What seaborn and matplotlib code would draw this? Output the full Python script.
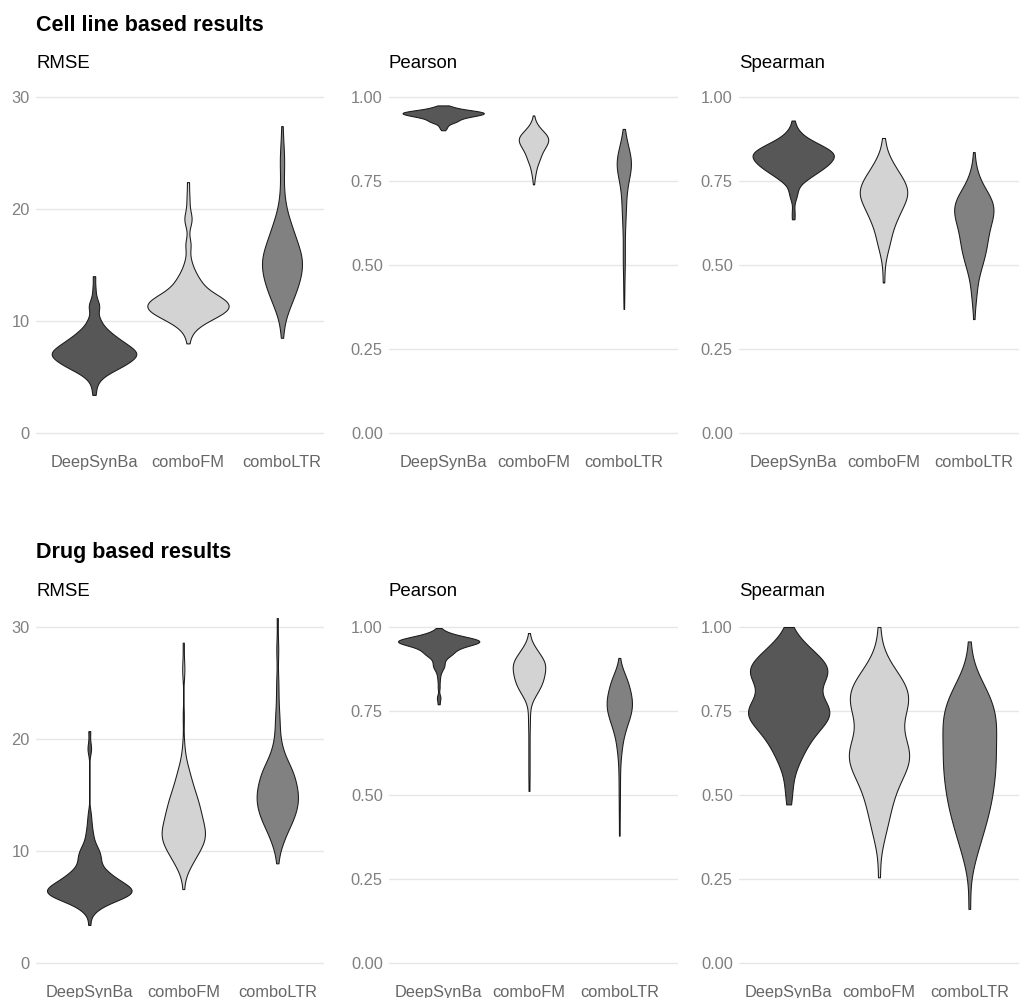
import numpy as np
import pandas as pd
import matplotlib
matplotlib.use("Agg")
import matplotlib.pyplot as plt
import seaborn as sns

# ---------------------------------------------------------------------------
# Per-model scores (one value per cell line / drug, rounded)
# ---------------------------------------------------------------------------
models = ["DeepSynBa", "comboFM", "comboLTR"]
metrics = ["RMSE", "Pearson", "Spearman"]
section_titles = ["Cell line based results", "Drug based results"]
fill_colors = ["#575757", "#d3d3d3", "#818181"]

rmse_ticks = [0, 10, 20, 30]
corr_ticks = [0.0, 0.25, 0.5, 0.75, 1.0]

# --- cell line based ---
cell_rmse_deepsynba = [
    3.4, 4.0, 4.5, 4.75, 5.0, 5.0, 5.25, 5.25,
    5.5, 5.5, 5.5, 5.5, 5.75, 5.75, 5.75, 5.75, 5.75,
    6.0, 6.0, 6.0, 6.0, 6.0, 6.0,
    6.25, 6.25, 6.25, 6.25, 6.25, 6.25, 6.25,
    6.5, 6.5, 6.5, 6.5, 6.5, 6.5, 6.5, 6.5,
    6.75, 6.75, 6.75, 6.75, 6.75, 6.75, 6.75, 6.75,
    7.0, 7.0, 7.0, 7.0, 7.0, 7.0, 7.0, 7.0, 7.0, 7.0,
    7.25, 7.25, 7.25, 7.25, 7.25, 7.25, 7.25, 7.25, 7.25,
    7.5, 7.5, 7.5, 7.5, 7.5, 7.5, 7.5, 7.5,
    7.75, 7.75, 7.75, 7.75, 7.75, 7.75, 7.75,
    8.0, 8.0, 8.0, 8.0, 8.0, 8.0, 8.0,
    8.25, 8.25, 8.25, 8.25, 8.25,
    8.5, 8.5, 8.5, 8.5, 8.5,
    8.75, 8.75, 8.75, 8.75,
    9.0, 9.0, 9.0, 9.25, 9.25, 9.25, 9.5, 9.5, 9.75, 10.0, 10.0,
    10.25, 10.5, 11.0, 11.25, 11.25, 11.5, 11.75, 12.25, 13.0, 14.0]
cell_rmse_combofm = [
    8.0, 8.75, 9.0, 9.25, 9.5, 9.5, 9.75, 9.75, 9.75,
    10.0, 10.0, 10.0, 10.0, 10.25, 10.25, 10.25, 10.25, 10.25,
    10.5, 10.5, 10.5, 10.5, 10.5, 10.5, 10.5,
    10.75, 10.75, 10.75, 10.75, 10.75, 10.75, 10.75, 10.75,
    11.0, 11.0, 11.0, 11.0, 11.0, 11.0, 11.0, 11.0,
    11.25, 11.25, 11.25, 11.25, 11.25, 11.25, 11.25, 11.25, 11.25, 11.25,
    11.5, 11.5, 11.5, 11.5, 11.5, 11.5, 11.5, 11.5, 11.5,
    11.75, 11.75, 11.75, 11.75, 11.75, 11.75, 11.75, 11.75,
    12.0, 12.0, 12.0, 12.0, 12.0, 12.0, 12.0, 12.0,
    12.25, 12.25, 12.25, 12.25, 12.25, 12.25,
    12.5, 12.5, 12.5, 12.5, 12.5, 12.75, 12.75, 12.75, 12.75,
    13.0, 13.0, 13.0, 13.25, 13.25, 13.25, 13.5, 13.5, 13.5,
    13.75, 13.75, 14.0, 14.0, 14.25, 14.25, 14.5, 14.75, 15.0, 15.25, 15.75,
    16.6, 16.8, 17.2, 18.5, 18.9, 19.1, 19.3, 19.7, 20.5, 21.3, 22.4]
cell_rmse_comboltr = [
    8.5, 9.5, 10.0, 10.5, 11.0, 11.0, 11.0, 11.5, 11.5, 11.5, 11.5,
    12.0, 12.0, 12.0, 12.0, 12.5, 12.5, 12.5, 12.5, 12.5, 12.5,
    13.0, 13.0, 13.0, 13.0, 13.0, 13.0, 13.5, 13.5, 13.5, 13.5, 13.5, 13.5, 13.5,
    14.0, 14.0, 14.0, 14.0, 14.0, 14.0, 14.0, 14.0,
    14.5, 14.5, 14.5, 14.5, 14.5, 14.5, 14.5, 14.5,
    15.0, 15.0, 15.0, 15.0, 15.0, 15.0, 15.0, 15.0,
    15.5, 15.5, 15.5, 15.5, 15.5, 15.5, 15.5, 15.5, 15.5,
    16.0, 16.0, 16.0, 16.0, 16.0, 16.0, 16.0, 16.0,
    16.5, 16.5, 16.5, 16.5, 16.5, 16.5, 16.5,
    17.0, 17.0, 17.0, 17.0, 17.0, 17.0, 17.5, 17.5, 17.5, 17.5, 17.5,
    18.0, 18.0, 18.0, 18.0, 18.0, 18.5, 18.5, 18.5, 18.5,
    19.0, 19.0, 19.0, 19.5, 19.5, 20.0, 20.0, 20.5, 21.0,
    21.5, 22.2, 23.0, 23.7, 24.2, 24.6, 25.2, 26.0, 27.4]

cell_pearson_deepsynba = [
    0.901, 0.906, 0.908, 0.912, 0.914, 0.917, 0.919, 0.921, 0.923, 0.923, 0.925,
    0.926, 0.926, 0.927, 0.927, 0.929, 0.929, 0.929, 0.9315, 0.9315, 0.9315,
    0.934, 0.934, 0.934, 0.934, 0.9367, 0.9367, 0.9367, 0.9367,
    0.9393, 0.9393, 0.9393, 0.9393, 0.9393,
    0.9419, 0.9419, 0.9419, 0.9419, 0.9419, 0.9419, 0.9419,
    0.9445, 0.9445, 0.9445, 0.9445, 0.9445, 0.9445, 0.9445,
    0.9471, 0.9471, 0.9471, 0.9471, 0.9471, 0.9471, 0.9471, 0.9471, 0.9471,
    0.9497, 0.9497, 0.9497, 0.9497, 0.9497, 0.9497, 0.9497, 0.9497, 0.9497,
    0.9523, 0.9523, 0.9523, 0.9523, 0.9523, 0.9523, 0.9523, 0.9523, 0.9523, 0.9523,
    0.9523,
    0.9549, 0.9549, 0.9549, 0.9549, 0.9549, 0.9549, 0.9549, 0.9549, 0.9549,
    0.9575, 0.9575, 0.9575, 0.9575, 0.9575, 0.9575, 0.9575, 0.9575, 0.9575,
    0.9601, 0.9601, 0.9601, 0.9601, 0.9601, 0.9601,
    0.9627, 0.9627, 0.9627, 0.9627, 0.9627, 0.9653, 0.9653, 0.9653,
    0.9679, 0.9679, 0.9679, 0.9705, 0.9705, 0.973, 0.974, 0.975]
cell_pearson_combofm = [
    0.74, 0.755, 0.765, 0.77, 0.775, 0.78, 0.785, 0.79, 0.79, 0.795, 0.8, 0.8,
    0.805, 0.805, 0.81, 0.81, 0.81, 0.815, 0.815, 0.815, 0.82, 0.82, 0.82,
    0.825, 0.825, 0.825, 0.83, 0.83, 0.83, 0.83, 0.835, 0.835, 0.835,
    0.84, 0.84, 0.84, 0.84, 0.84, 0.845, 0.845, 0.845, 0.845,
    0.85, 0.85, 0.85, 0.85, 0.85, 0.85, 0.855, 0.855, 0.855, 0.855, 0.855,
    0.86, 0.86, 0.86, 0.86, 0.86, 0.86, 0.86,
    0.865, 0.865, 0.865, 0.865, 0.865, 0.865,
    0.87, 0.87, 0.87, 0.87, 0.87, 0.87, 0.87,
    0.875, 0.875, 0.875, 0.875, 0.875, 0.875, 0.875, 0.875,
    0.88, 0.88, 0.88, 0.88, 0.88, 0.88, 0.88,
    0.885, 0.885, 0.885, 0.885, 0.885, 0.885,
    0.89, 0.89, 0.89, 0.89, 0.89, 0.89, 0.895, 0.895, 0.895, 0.895, 0.895,
    0.9, 0.9, 0.9, 0.9, 0.905, 0.905, 0.905, 0.91, 0.91, 0.91,
    0.915, 0.92, 0.92, 0.925, 0.93, 0.945]
cell_pearson_comboltr = [
    0.369, 0.4, 0.42, 0.44, 0.46, 0.48, 0.49, 0.5, 0.51, 0.52, 0.53, 0.54, 0.55, 0.56,
    0.58, 0.59, 0.6, 0.61, 0.62, 0.63, 0.63, 0.64, 0.65, 0.65, 0.66, 0.66, 0.67, 0.67,
    0.68, 0.68, 0.69, 0.69, 0.7, 0.7, 0.71, 0.71, 0.72, 0.72, 0.73, 0.73, 0.73,
    0.74, 0.74, 0.74, 0.75, 0.75, 0.75, 0.75, 0.76, 0.76, 0.76, 0.76,
    0.77, 0.77, 0.77, 0.77, 0.77, 0.78, 0.78, 0.78, 0.78, 0.78, 0.78, 0.78,
    0.79, 0.79, 0.79, 0.79, 0.79, 0.79, 0.79, 0.79,
    0.8, 0.8, 0.8, 0.8, 0.8, 0.8, 0.8, 0.8, 0.8,
    0.81, 0.81, 0.81, 0.81, 0.81, 0.81, 0.81, 0.81,
    0.82, 0.82, 0.82, 0.82, 0.82, 0.82, 0.82, 0.83, 0.83, 0.83, 0.83, 0.83, 0.83,
    0.84, 0.84, 0.84, 0.84, 0.84, 0.85, 0.85, 0.85, 0.85, 0.86, 0.86, 0.86,
    0.87, 0.87, 0.88, 0.88, 0.89, 0.905]

cell_spearman_deepsynba = [
    0.636, 0.66, 0.695, 0.705, 0.715, 0.72, 0.73, 0.74, 0.745, 0.75, 0.75,
    0.755, 0.755, 0.76, 0.76, 0.765, 0.765, 0.77, 0.77, 0.77,
    0.775, 0.775, 0.775, 0.775, 0.78, 0.78, 0.78, 0.785, 0.785, 0.785, 0.785,
    0.79, 0.79, 0.79, 0.79, 0.795, 0.795, 0.795, 0.795, 0.795,
    0.8, 0.8, 0.8, 0.8, 0.8, 0.805, 0.805, 0.805, 0.805, 0.805,
    0.81, 0.81, 0.81, 0.81, 0.81, 0.815, 0.815, 0.815, 0.815, 0.815,
    0.82, 0.82, 0.82, 0.82, 0.82, 0.82, 0.825, 0.825, 0.825, 0.825, 0.825, 0.825,
    0.83, 0.83, 0.83, 0.83, 0.83, 0.83, 0.835, 0.835, 0.835, 0.835, 0.835, 0.835,
    0.84, 0.84, 0.84, 0.84, 0.84, 0.845, 0.845, 0.845, 0.845, 0.845,
    0.85, 0.85, 0.85, 0.85, 0.855, 0.855, 0.855, 0.855, 0.86, 0.86, 0.86, 0.86,
    0.865, 0.865, 0.865, 0.87, 0.87, 0.875, 0.875, 0.88, 0.88,
    0.885, 0.89, 0.895, 0.9, 0.91, 0.93]
cell_spearman_combofm = [
    0.448, 0.49, 0.52, 0.53, 0.54, 0.55, 0.56, 0.56, 0.57, 0.57, 0.58, 0.58,
    0.59, 0.59, 0.6, 0.6, 0.61, 0.61, 0.61, 0.62, 0.62, 0.62, 0.63, 0.63, 0.63,
    0.64, 0.64, 0.64, 0.64, 0.65, 0.65, 0.65, 0.65,
    0.66, 0.66, 0.66, 0.66, 0.66, 0.67, 0.67, 0.67, 0.67, 0.67,
    0.68, 0.68, 0.68, 0.68, 0.68, 0.69, 0.69, 0.69, 0.69, 0.69, 0.69,
    0.7, 0.7, 0.7, 0.7, 0.7, 0.7, 0.7, 0.71, 0.71, 0.71, 0.71, 0.71, 0.71, 0.71,
    0.72, 0.72, 0.72, 0.72, 0.72, 0.72, 0.72, 0.73, 0.73, 0.73, 0.73, 0.73, 0.73,
    0.74, 0.74, 0.74, 0.74, 0.74, 0.74, 0.74, 0.75, 0.75, 0.75, 0.75, 0.75,
    0.76, 0.76, 0.76, 0.76, 0.76, 0.76, 0.77, 0.77, 0.77, 0.77,
    0.78, 0.78, 0.78, 0.78, 0.79, 0.79, 0.79, 0.8, 0.8, 0.8,
    0.81, 0.81, 0.82, 0.82, 0.83, 0.84, 0.86, 0.878]
cell_spearman_comboltr = [
    0.339, 0.39, 0.4, 0.41, 0.43, 0.44, 0.45, 0.46, 0.47, 0.48, 0.48, 0.49, 0.49,
    0.5, 0.5, 0.51, 0.51, 0.51, 0.52, 0.52, 0.53, 0.53, 0.53, 0.53,
    0.54, 0.54, 0.54, 0.55, 0.55, 0.55, 0.56, 0.56, 0.56, 0.56, 0.57, 0.57, 0.57, 0.57,
    0.58, 0.58, 0.58, 0.59, 0.59, 0.59, 0.59, 0.6, 0.6, 0.6, 0.6,
    0.61, 0.61, 0.61, 0.61, 0.62, 0.62, 0.62, 0.62, 0.63, 0.63, 0.63, 0.63, 0.63,
    0.64, 0.64, 0.64, 0.64, 0.64, 0.65, 0.65, 0.65, 0.65, 0.65, 0.65,
    0.66, 0.66, 0.66, 0.66, 0.66, 0.66, 0.67, 0.67, 0.67, 0.67, 0.67,
    0.68, 0.68, 0.68, 0.68, 0.68, 0.68, 0.69, 0.69, 0.69, 0.69, 0.69, 0.69,
    0.7, 0.7, 0.7, 0.7, 0.7, 0.71, 0.71, 0.71, 0.71, 0.72, 0.72, 0.72, 0.72,
    0.73, 0.73, 0.74, 0.74, 0.75, 0.75, 0.76, 0.77, 0.78, 0.79, 0.836]

# --- drug based ---
drug_rmse_deepsynba = [
    3.4, 4.5, 4.75, 4.75, 5.0, 5.0, 5.25, 5.25, 5.25, 5.5, 5.5, 5.5, 5.5, 5.5,
    5.75, 5.75, 5.75, 5.75, 5.75, 5.75, 5.75,
    6.0, 6.0, 6.0, 6.0, 6.0, 6.0, 6.0, 6.0, 6.0,
    6.25, 6.25, 6.25, 6.25, 6.25, 6.25, 6.25, 6.25, 6.25, 6.25, 6.25,
    6.5, 6.5, 6.5, 6.5, 6.5, 6.5, 6.5, 6.5, 6.5, 6.5,
    6.75, 6.75, 6.75, 6.75, 6.75, 6.75, 6.75, 6.75, 6.75,
    7.0, 7.0, 7.0, 7.0, 7.0, 7.0, 7.0, 7.0,
    7.25, 7.25, 7.25, 7.25, 7.25, 7.25, 7.25,
    7.5, 7.5, 7.5, 7.5, 7.5, 7.75, 7.75, 7.75, 7.75, 7.75,
    8.0, 8.0, 8.0, 8.0, 8.0, 8.25, 8.25, 8.25, 8.5, 8.5, 8.5,
    8.75, 8.75, 9.0, 9.0, 9.25, 9.25, 9.25, 9.5, 9.5, 9.75, 9.75, 9.75,
    10.0, 10.0, 10.25, 10.25, 10.5, 10.75, 10.75, 11.25, 11.5, 11.75, 12.25, 12.75,
    13.4, 19.0, 19.3, 20.7]
drug_rmse_combofm = [
    6.6, 8.0, 8.5, 8.5, 8.5, 9.0, 9.0, 9.0, 9.0, 9.5, 9.5, 9.5, 9.5, 9.5,
    10.0, 10.0, 10.0, 10.0, 10.0, 10.0, 10.0,
    10.5, 10.5, 10.5, 10.5, 10.5, 10.5, 10.5, 10.5,
    11.0, 11.0, 11.0, 11.0, 11.0, 11.0, 11.0, 11.0, 11.0, 11.0,
    11.5, 11.5, 11.5, 11.5, 11.5, 11.5, 11.5, 11.5, 11.5, 11.5,
    12.0, 12.0, 12.0, 12.0, 12.0, 12.0, 12.0, 12.0, 12.0,
    12.5, 12.5, 12.5, 12.5, 12.5, 12.5, 12.5, 12.5,
    13.0, 13.0, 13.0, 13.0, 13.0, 13.0, 13.0, 13.0,
    13.5, 13.5, 13.5, 13.5, 13.5, 13.5, 13.5,
    14.0, 14.0, 14.0, 14.0, 14.0, 14.0, 14.0,
    14.5, 14.5, 14.5, 14.5, 14.5, 14.5, 15.0, 15.0, 15.0, 15.0, 15.0, 15.0,
    15.5, 15.5, 15.5, 15.5, 16.0, 16.0, 16.0, 16.0, 16.5, 16.5, 16.5,
    17.0, 17.0, 17.0, 17.5, 17.5, 18.0, 18.5, 19.5, 22.0, 26.0, 26.4, 28.6]
drug_rmse_comboltr = [
    8.9, 10.0, 10.5, 10.5, 11.0, 11.0, 11.0, 11.5, 11.5, 11.5,
    12.0, 12.0, 12.0, 12.0, 12.0, 12.5, 12.5, 12.5, 12.5, 12.5, 12.5,
    13.0, 13.0, 13.0, 13.0, 13.0, 13.0, 13.0,
    13.5, 13.5, 13.5, 13.5, 13.5, 13.5, 13.5, 13.5,
    14.0, 14.0, 14.0, 14.0, 14.0, 14.0, 14.0, 14.0,
    14.5, 14.5, 14.5, 14.5, 14.5, 14.5, 14.5, 14.5, 14.5,
    15.0, 15.0, 15.0, 15.0, 15.0, 15.0, 15.0, 15.0, 15.0,
    15.5, 15.5, 15.5, 15.5, 15.5, 15.5, 15.5, 15.5,
    16.0, 16.0, 16.0, 16.0, 16.0, 16.0, 16.0, 16.0,
    16.5, 16.5, 16.5, 16.5, 16.5, 16.5, 16.5,
    17.0, 17.0, 17.0, 17.0, 17.0, 17.0, 17.0,
    17.5, 17.5, 17.5, 17.5, 17.5, 17.5, 18.0, 18.0, 18.0, 18.0,
    18.5, 18.5, 18.5, 19.0, 19.0, 19.5, 19.5, 20.0, 20.5, 21.0, 21.5, 22.0, 22.5,
    23.5, 24.5, 25.5, 27.5, 28.5, 30.8]

drug_pearson_deepsynba = [
    0.77, 0.788, 0.792, 0.82, 0.84, 0.855, 0.865, 0.872, 0.877, 0.88, 0.884, 0.884,
    0.888, 0.893, 0.897, 0.897, 0.902, 0.905, 0.91, 0.91,
    0.915, 0.915, 0.915, 0.915, 0.92, 0.92, 0.92, 0.92, 0.925, 0.925, 0.925, 0.925,
    0.93, 0.93, 0.93, 0.93, 0.935, 0.935, 0.935, 0.935, 0.935,
    0.94, 0.94, 0.94, 0.94, 0.94, 0.94, 0.945, 0.945, 0.945, 0.945, 0.945, 0.945, 0.945,
    0.95, 0.95, 0.95, 0.95, 0.95, 0.95, 0.95, 0.95, 0.95, 0.95,
    0.955, 0.955, 0.955, 0.955, 0.955, 0.955, 0.955, 0.955, 0.955, 0.955, 0.955,
    0.955, 0.955, 0.955,
    0.96, 0.96, 0.96, 0.96, 0.96, 0.96, 0.96, 0.96, 0.96, 0.96, 0.96, 0.96, 0.96,
    0.965, 0.965, 0.965, 0.965, 0.965, 0.965, 0.965, 0.965, 0.965, 0.965,
    0.97, 0.97, 0.97, 0.97, 0.97, 0.97, 0.97, 0.975, 0.975, 0.975, 0.975, 0.975,
    0.98, 0.98, 0.98, 0.985, 0.985, 0.99, 0.997]
drug_pearson_combofm = [
    0.512, 0.55, 0.58, 0.61, 0.64, 0.67, 0.7, 0.72, 0.74, 0.76, 0.77, 0.78,
    0.79, 0.79, 0.79, 0.8, 0.8, 0.8, 0.8, 0.81, 0.81, 0.81, 0.81, 0.81,
    0.82, 0.82, 0.82, 0.82, 0.82, 0.82, 0.83, 0.83, 0.83, 0.83, 0.83, 0.83, 0.83,
    0.84, 0.84, 0.84, 0.84, 0.84, 0.84, 0.84, 0.84,
    0.85, 0.85, 0.85, 0.85, 0.85, 0.85, 0.85,
    0.86, 0.86, 0.86, 0.86, 0.86, 0.86, 0.86, 0.86, 0.86,
    0.87, 0.87, 0.87, 0.87, 0.87, 0.87, 0.87, 0.87,
    0.88, 0.88, 0.88, 0.88, 0.88, 0.88, 0.88, 0.88, 0.88,
    0.89, 0.89, 0.89, 0.89, 0.89, 0.89, 0.89, 0.89, 0.89,
    0.9, 0.9, 0.9, 0.9, 0.9, 0.9, 0.9, 0.9, 0.9,
    0.91, 0.91, 0.91, 0.91, 0.91, 0.91, 0.91, 0.92, 0.92, 0.92, 0.92, 0.92,
    0.93, 0.93, 0.93, 0.93, 0.93, 0.94, 0.94, 0.94, 0.95, 0.95, 0.96, 0.982]
drug_pearson_comboltr = [
    0.379, 0.43, 0.47, 0.5, 0.53, 0.555, 0.58, 0.6, 0.615, 0.625, 0.635, 0.64,
    0.65, 0.65, 0.66, 0.67, 0.67, 0.68, 0.68, 0.68, 0.69, 0.69, 0.69, 0.7, 0.7, 0.7,
    0.71, 0.71, 0.71, 0.71, 0.71, 0.72, 0.72, 0.72, 0.72,
    0.73, 0.73, 0.73, 0.73, 0.73, 0.73, 0.74, 0.74, 0.74, 0.74, 0.74, 0.74,
    0.75, 0.75, 0.75, 0.75, 0.75, 0.75, 0.75, 0.76, 0.76, 0.76, 0.76, 0.76, 0.76, 0.76,
    0.77, 0.77, 0.77, 0.77, 0.77, 0.77, 0.77, 0.78, 0.78, 0.78, 0.78, 0.78, 0.78, 0.78,
    0.79, 0.79, 0.79, 0.79, 0.79, 0.79, 0.79, 0.8, 0.8, 0.8, 0.8, 0.8, 0.8,
    0.81, 0.81, 0.81, 0.81, 0.81, 0.81, 0.82, 0.82, 0.82, 0.82, 0.82,
    0.83, 0.83, 0.83, 0.83, 0.83, 0.84, 0.84, 0.84, 0.84, 0.84,
    0.85, 0.85, 0.85, 0.85, 0.86, 0.86, 0.86, 0.87, 0.87, 0.88, 0.908]

drug_spearman_deepsynba = [
    0.472, 0.5, 0.53, 0.55, 0.58, 0.59, 0.6, 0.61, 0.61, 0.62, 0.63, 0.64, 0.64,
    0.65, 0.65, 0.66, 0.66, 0.67, 0.67, 0.68, 0.68, 0.68, 0.69, 0.69, 0.7, 0.7, 0.7,
    0.71, 0.71, 0.71, 0.71, 0.72, 0.72, 0.72,
    0.73, 0.73, 0.73, 0.73, 0.73, 0.74, 0.74, 0.74, 0.74, 0.74,
    0.75, 0.75, 0.75, 0.75, 0.75, 0.75, 0.76, 0.76, 0.76, 0.76, 0.76,
    0.77, 0.77, 0.77, 0.77, 0.78, 0.78, 0.78, 0.79, 0.79, 0.79,
    0.8, 0.8, 0.81, 0.81, 0.82, 0.82, 0.83, 0.83, 0.83, 0.84, 0.84, 0.84,
    0.85, 0.85, 0.85, 0.85, 0.86, 0.86, 0.86, 0.86, 0.86,
    0.87, 0.87, 0.87, 0.87, 0.87, 0.87, 0.88, 0.88, 0.88, 0.88, 0.88,
    0.89, 0.89, 0.89, 0.89, 0.9, 0.9, 0.9, 0.91, 0.91, 0.91, 0.92, 0.92, 0.92,
    0.93, 0.93, 0.94, 0.94, 0.95, 0.95, 0.96, 0.965, 1.0]
drug_spearman_combofm = [
    0.255, 0.36, 0.38, 0.38, 0.4, 0.42, 0.42, 0.44, 0.44, 0.46, 0.46, 0.46,
    0.48, 0.48, 0.5, 0.5, 0.5, 0.52, 0.52, 0.52, 0.52, 0.54, 0.54, 0.54,
    0.56, 0.56, 0.56, 0.56, 0.56, 0.58, 0.58, 0.58, 0.58, 0.58, 0.58,
    0.6, 0.6, 0.6, 0.6, 0.6, 0.6, 0.6, 0.62, 0.62, 0.62, 0.62, 0.62, 0.62, 0.62, 0.62,
    0.64, 0.64, 0.64, 0.64, 0.64, 0.64, 0.64, 0.66, 0.66, 0.66, 0.66, 0.66,
    0.68, 0.68, 0.68, 0.68, 0.7, 0.7, 0.7, 0.72, 0.72, 0.72, 0.72,
    0.74, 0.74, 0.74, 0.74, 0.74, 0.76, 0.76, 0.76, 0.76, 0.76, 0.76,
    0.78, 0.78, 0.78, 0.78, 0.78, 0.78, 0.78, 0.8, 0.8, 0.8, 0.8, 0.8, 0.8, 0.8,
    0.82, 0.82, 0.82, 0.82, 0.82, 0.82, 0.82, 0.84, 0.84, 0.84, 0.84, 0.84,
    0.86, 0.86, 0.86, 0.86, 0.88, 0.88, 0.9, 0.9, 0.92, 1.0]
drug_spearman_comboltr = [
    0.161, 0.28, 0.3, 0.32, 0.34, 0.34, 0.36, 0.36, 0.38, 0.38, 0.38,
    0.4, 0.4, 0.4, 0.42, 0.42, 0.42, 0.44, 0.44, 0.44, 0.44, 0.46, 0.46, 0.46, 0.46,
    0.48, 0.48, 0.48, 0.48, 0.48, 0.5, 0.5, 0.5, 0.5, 0.52, 0.52, 0.52, 0.52, 0.52,
    0.54, 0.54, 0.54, 0.54, 0.54, 0.56, 0.56, 0.56, 0.56, 0.56,
    0.58, 0.58, 0.58, 0.58, 0.58, 0.6, 0.6, 0.6, 0.6, 0.6, 0.6,
    0.62, 0.62, 0.62, 0.62, 0.62, 0.64, 0.64, 0.64, 0.64, 0.64,
    0.66, 0.66, 0.66, 0.66, 0.66, 0.68, 0.68, 0.68, 0.68, 0.68,
    0.7, 0.7, 0.7, 0.7, 0.7, 0.7, 0.72, 0.72, 0.72, 0.72, 0.72,
    0.74, 0.74, 0.74, 0.74, 0.74, 0.74, 0.76, 0.76, 0.76, 0.76, 0.76,
    0.78, 0.78, 0.78, 0.78, 0.78, 0.8, 0.8, 0.8, 0.8, 0.82, 0.82, 0.82,
    0.84, 0.84, 0.84, 0.86, 0.88, 0.957]

scores = {
    ("cell", "RMSE"): [cell_rmse_deepsynba, cell_rmse_combofm, cell_rmse_comboltr],
    ("cell", "Pearson"): [cell_pearson_deepsynba, cell_pearson_combofm, cell_pearson_comboltr],
    ("cell", "Spearman"): [cell_spearman_deepsynba, cell_spearman_combofm, cell_spearman_comboltr],
    ("drug", "RMSE"): [drug_rmse_deepsynba, drug_rmse_combofm, drug_rmse_comboltr],
    ("drug", "Pearson"): [drug_pearson_deepsynba, drug_pearson_combofm, drug_pearson_comboltr],
    ("drug", "Spearman"): [drug_spearman_deepsynba, drug_spearman_combofm, drug_spearman_comboltr],
}


def nrd0(kde):
    """Silverman's rule of thumb (R's bw.nrd0), as a factor of the sample sd."""
    x = np.asarray(kde.dataset).ravel()
    sd = x.std(ddof=1)
    q75, q25 = np.percentile(x, [75, 25])
    lo = min(sd, (q75 - q25) / 1.34)
    return 0.9 * lo * len(x) ** -0.2 / sd


# ---------------------------------------------------------------------------
# Figure layout (pixel geometry)
# ---------------------------------------------------------------------------
W, H = 1019, 998
sns.set_theme(style="white")
plt.rcParams["font.family"] = ["Liberation Sans", "DejaVu Sans"]

fig = plt.figure(figsize=(W / 100, H / 100), dpi=100)
fig.patch.set_facecolor("white")

panel_x = [(36, 324), (389, 678), (739, 1028)]
row_top = [80.2, 610.2]
row_h = 369.6
row_shift = [0.0, 0.05]
xlims = [(-0.617, 2.447), (-0.6, 2.6), (-0.6, 2.6)]
title_base = [30.7, 557.7]
sub_base = [68.3, 596.5]

for r, group in enumerate(["cell", "drug"]):
    fig.text(36 / W, 1 - title_base[r] / H, section_titles[r], fontsize=15.5,
             fontweight="bold", color="black", ha="left", va="baseline")
    for c, metric in enumerate(metrics):
        x0, x1 = panel_x[c]
        ax = fig.add_axes([x0 / W, 1 - (row_top[r] + row_h) / H, (x1 - x0) / W, row_h / H])
        vals = scores[(group, metric)]
        df = pd.DataFrame({
            "model": np.concatenate([[m] * len(v) for m, v in zip(models, vals)]),
            "value": np.concatenate([np.asarray(v, dtype=float) for v in vals]),
        })
        sns.violinplot(data=df, x="model", y="value", hue="model", order=models,
                       hue_order=models, palette=fill_colors, legend=False, cut=0,
                       inner=None, density_norm="area", common_norm=True, width=0.9,
                       gridsize=300, linewidth=0.75, linecolor="#1a1a1a",
                       bw_method=nrd0, ax=ax)
        lo, hi = xlims[c]
        ax.set_xlim(lo + row_shift[r], hi + row_shift[r])
        if metric == "RMSE":
            ax.set_ylim(-1.5, 31.5)
            ax.set_yticks(rmse_ticks)
            ax.set_yticklabels([f"{t:d}" for t in rmse_ticks])
        else:
            ax.set_ylim(-0.05, 1.05)
            ax.set_yticks(corr_ticks)
            ax.set_yticklabels([f"{t:.2f}" for t in corr_ticks])
        ax.set_xlabel("")
        ax.set_ylabel("")
        for s in ax.spines.values():
            s.set_visible(False)
        ax.set_facecolor("none")
        ax.yaxis.grid(True, color="#e6e6e6", linewidth=1.0)
        ax.xaxis.grid(False)
        ax.set_axisbelow(True)
        ax.tick_params(axis="both", length=0)
        ax.tick_params(axis="y", labelsize=11.8, labelcolor="#808080", pad=4.5)
        ax.tick_params(axis="x", labelsize=11.8, labelcolor="#666666", pad=4.0)
        fig.text(x0 / W, 1 - sub_base[r] / H, metric, fontsize=13.4, color="black",
                 ha="left", va="baseline")

fig.savefig("out.png", dpi=100, facecolor="white")
